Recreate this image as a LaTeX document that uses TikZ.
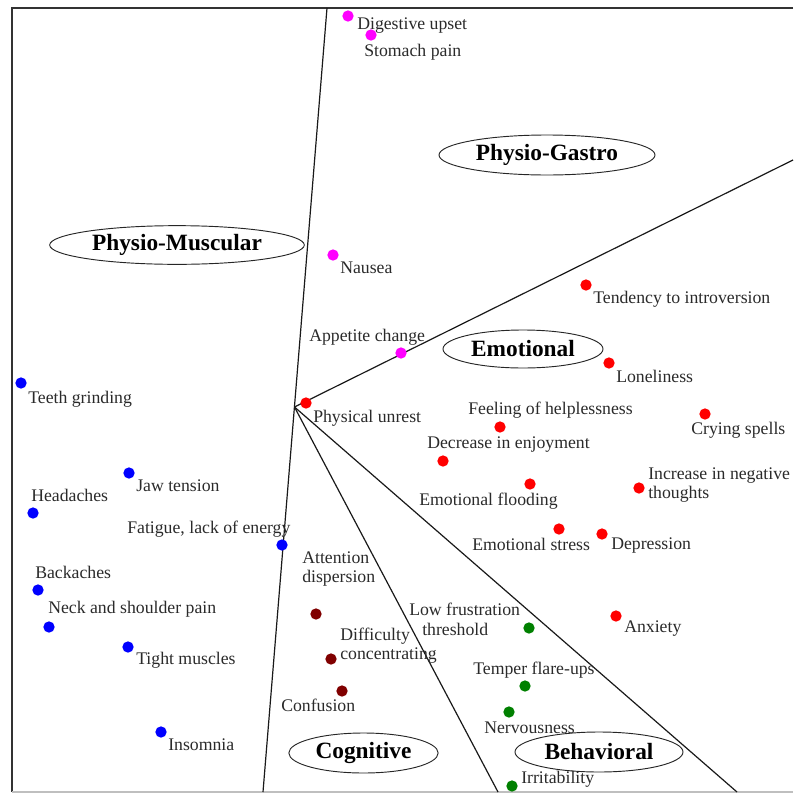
\documentclass[tikz,border=0pt]{standalone}
\usepackage{fontspec}
\setmainfont{Liberation Serif}
\usetikzlibrary{shapes.geometric}
\definecolor{cmag}{HTML}{FF00FF}
\definecolor{cred}{HTML}{FF0000}
\definecolor{cblue}{HTML}{0000FF}
\definecolor{cdred}{HTML}{800000}
\definecolor{cgreen}{HTML}{008000}
\definecolor{txt}{HTML}{2A2A2A}
\tikzset{
  dot/.style={circle, fill=#1, inner sep=0pt, minimum size=8.5pt},
  lbl/.style={anchor=base west, inner sep=0pt, text=txt, font=\fontsize{13.3}{15.5}\selectfont},
  lbltwo/.style={anchor=base west, inner sep=0pt, text=txt, align=left, font=\fontsize{13.3}{14.2}\selectfont},
  cat/.style={ellipse, draw=black!85, line width=0.7pt, inner sep=0pt, font=\fontsize{17.5}{20}\selectfont\bfseries},
  sep/.style={draw=black!90, line width=0.9pt}
}
\begin{document}
\begin{tikzpicture}[x=0.75pt,y=-0.75pt]
\useasboundingbox (0,0) rectangle (793,793);
% frame
\draw[black!80, line width=0.8pt] (793,8) -- (12,8) -- (12,792);
\draw[black!25, line width=0.8pt] (12,792) -- (793,792);
% separator lines
\coordinate (apex) at (294.5,407);
\coordinate (ttop) at (327,8);
\coordinate (tbot) at (263,792);
\coordinate (rend) at (793,160);
\coordinate (cbend) at (498,792);
\coordinate (bend) at (737,792);
\draw[sep] (ttop) -- (tbot);
\draw[sep] (apex) -- (rend);
\draw[sep] (apex) -- (cbend);
\draw[sep] (apex) -- (bend);
% category ellipses
\node[cat, minimum width=191pt, minimum height=29pt] (pm) at (177,245) {Physio-Muscular};
\node[cat, minimum width=162pt, minimum height=30pt] (pg) at (547,155) {Physio-Gastro};
\node[cat, minimum width=120pt, minimum height=28.5pt] (em) at (523,349) {Emotional};
\node[cat, minimum width=112pt, minimum height=30pt] (cg) at (363.5,753) {Cognitive};
\node[cat, minimum width=126pt, minimum height=30pt] (bh) at (599,752) {Behavioral};
% magenta
\node[dot=cmag] (d1) at (348,16) {};
\node[lbl] (l1) at (357,29) {Digestive upset};
\node[dot=cmag] (d2) at (371,35) {};
\node[lbl] (l2) at (364,56) {Stomach pain};
\node[dot=cmag] (d3) at (333,255) {};
\node[lbl] (l3) at (340,273) {Nausea};
\node[dot=cmag] (d4) at (401,353) {};
\node[lbl] (l4) at (309,341) {Appetite change};
% red
\node[dot=cred] (e1) at (306,403) {};
\node[lbl] (m1) at (313,422) {Physical unrest};
\node[dot=cred] (e2) at (586,285) {};
\node[lbl] (m2) at (593,303) {Tendency to introversion};
\node[dot=cred] (e3) at (609,363) {};
\node[lbl] (m3) at (616,382) {Loneliness};
\node[dot=cred] (e4) at (500,427) {};
\node[lbl] (m4) at (468,414) {Feeling of helplessness};
\node[dot=cred] (e5) at (705,414) {};
\node[lbl] (m5) at (691,434) {Crying spells};
\node[dot=cred] (e6) at (443,461) {};
\node[lbl] (m6) at (427,448) {Decrease in enjoyment};
\node[dot=cred] (e7) at (530,484) {};
\node[lbl] (m7) at (419,505) {Emotional flooding};
\node[dot=cred] (e8) at (639,488) {};
\node[lbltwo] (m8) at (648,498) {Increase in negative\\thoughts};
\node[dot=cred] (e9) at (559,529) {};
\node[lbl] (m9) at (472,550) {Emotional stress};
\node[dot=cred] (e10) at (602,534) {};
\node[lbl] (m10) at (611,549) {Depression};
\node[dot=cred] (e11) at (616,616) {};
\node[lbl] (m11) at (624,632) {Anxiety};
% blue
\node[dot=cblue] (b1) at (21,383) {};
\node[lbl] (n1) at (28,403) {Teeth grinding};
\node[dot=cblue] (b2) at (129,473) {};
\node[lbl] (n2) at (136,491) {Jaw tension};
\node[dot=cblue] (b3) at (33,513) {};
\node[lbl] (n3) at (31,501) {Headaches};
\node[dot=cblue] (b4) at (282,545) {};
\node[lbl] (n4) at (127,533) {Fatigue, lack of energy};
\node[dot=cblue] (b5) at (38,590) {};
\node[lbl] (n5) at (35,578) {Backaches};
\node[dot=cblue] (b6) at (49,627) {};
\node[lbl] (n6) at (48,613) {Neck and shoulder pain};
\node[dot=cblue] (b7) at (128,647) {};
\node[lbl] (n7) at (136,664) {Tight muscles};
\node[dot=cblue] (b8) at (161,732) {};
\node[lbl] (n8) at (168,750) {Insomnia};
% dark red
\node[dot=cdred] (c1) at (316,614) {};
\node[lbltwo] (o1) at (302,582) {Attention\\dispersion};
\node[dot=cdred] (c2) at (331,659) {};
\node[lbltwo] (o2) at (340,659) {Difficulty\\concentrating};
\node[dot=cdred] (c3) at (342,691) {};
\node[lbl] (o3) at (281,711) {Confusion};
% green
\node[dot=cgreen] (g1) at (529,628) {};
\node[lbl] (p1) at (409,615) {Low frustration};
\node[lbl] (p1b) at (422,635) {threshold};
\node[dot=cgreen] (g2) at (525,686) {};
\node[lbl] (p2) at (473,674) {Temper flare-ups};
\node[dot=cgreen] (g3) at (509,712) {};
\node[lbl] (p3) at (484,733) {Nervousness};
\node[dot=cgreen] (g4) at (512,786) {};
\node[lbl] (p4) at (521,783) {Irritability};
\end{tikzpicture}
\end{document}
